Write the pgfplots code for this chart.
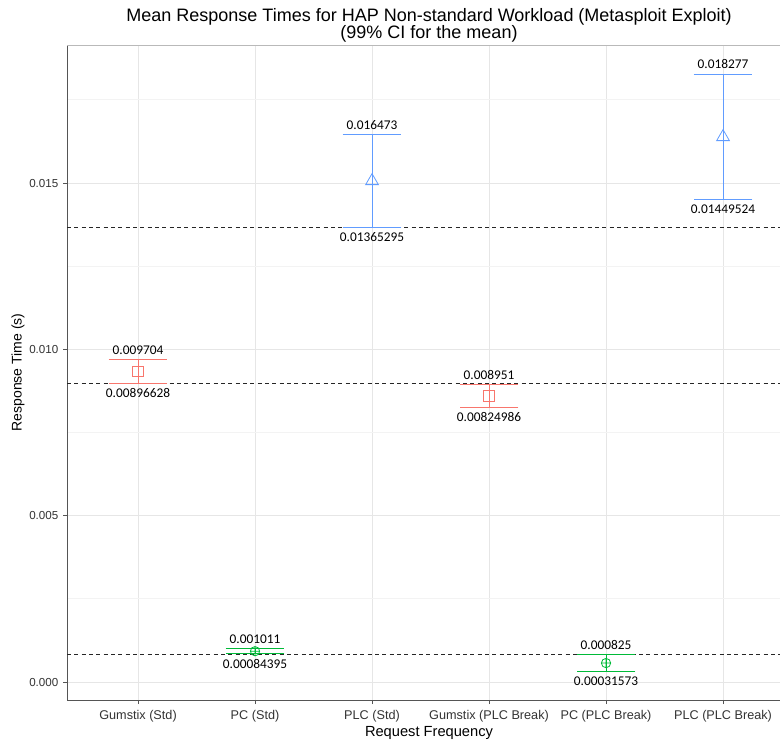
\documentclass[border=0pt]{standalone}
\usepackage{fontspec}
\setmainfont{Liberation Sans}
\newfontfamily\lblfont{Carlito}
\usepackage{pgfplots}
\pgfplotsset{compat=1.18}
\usepackage{pgfplotstable}

\definecolor{gsred}{HTML}{F8766D}
\definecolor{pcgreen}{HTML}{00BA38}
\definecolor{plcblue}{HTML}{619CFF}
\definecolor{gridmaj}{HTML}{E6E6E6}
\definecolor{gridmin}{HTML}{F3F3F3}
\definecolor{axgrey}{HTML}{555555}

% x = position of the category, y = mean, lo/hi = 99% CI
\pgfplotstableread{
x y lo hi lolab hilab
1 0.00933514 0.00896628 0.009704 0.00896628 0.009704
4 0.00860043 0.00824986 0.008951 0.00824986 0.008951
}\gumstix
\pgfplotstableread{
x y lo hi lolab hilab
2 0.00092748 0.00084395 0.001011 0.00084395 0.001011
5 0.00057037 0.00031573 0.000825 0.00031573 0.000825
}\pc
\pgfplotstableread{
x y lo hi lolab hilab
3 0.01506298 0.01365295 0.016473 0.01365295 0.016473
6 0.01638612 0.01449524 0.018277 0.01449524 0.018277
}\plc

\pgfplotsset{
  cibar/.style={only marks, #1, mark options={solid, line width=0.6pt, fill=none},
    error bars/y dir=both, error bars/y explicit,
    error bars/error bar style={line width=0.6pt, color=#1},
    error bars/error mark options={rotate=90, mark size=22pt, line width=0.7pt, color=#1}},
  hilabel/.style={only marks, mark=none, nodes near coords, point meta=explicit symbolic,
    nodes near coords style={anchor=south, inner sep=0pt, yshift=3.5pt, black,
      font=\lblfont\fontsize{10}{12}\selectfont}},
  lolabel/.style={only marks, mark=none, nodes near coords, point meta=explicit symbolic,
    nodes near coords style={anchor=north, inner sep=0pt, yshift=-3.5pt, black,
      font=\lblfont\fontsize{10}{12}\selectfont}},
}

\begin{document}
\begin{tikzpicture}
\useasboundingbox (-50.25pt,-31.5pt) rectangle (534.75pt,525pt);
\begin{axis}[
    at={(0,0)}, anchor=south west,
    width=534.75pt, height=491.25pt, scale only axis,
    xmin=0.393, xmax=6.487,
    ymin=-0.00054, ymax=0.01915,
    axis x line*=bottom, axis y line*=left,
    axis line style={-, axgrey, line width=0.6pt},
    tick style={axgrey, line width=0.6pt},
    tick align=outside, major tick length=3pt, minor tick length=0pt,
    xtick={1,2,3,4,5,6},
    xticklabels={Gumstix (Std), PC (Std), PLC (Std), Gumstix (PLC Break), PC (PLC Break), PLC (PLC Break)},
    ytick={0,0.005,0.01,0.015},
    minor ytick={0.0025,0.0075,0.0125,0.0175},
    yticklabel style={/pgf/number format/.cd, fixed, fixed zerofill, precision=3},
    /pgf/number format/assume math mode=true,
    scaled y ticks=false,
    ticklabel style={font=\fontsize{8.7}{10}\selectfont, color=black!80},
    xticklabel style={font=\fontsize{9.5}{11}\selectfont, yshift=-1pt},
    xmajorgrids, ymajorgrids, yminorgrids,
    major grid style={gridmaj, line width=0.7pt},
    minor grid style={gridmin, line width=0.7pt},
    title={Mean Response Times for HAP Non-standard Workload (Metasploit Exploit)\\[-1.5pt](99\% CI for the mean)},
    title style={at={(axis description cs:0.5077,1)}, anchor=south, inner sep=0pt, yshift=-3.8pt,
      align=center, font=\fontsize{13.5}{14}\selectfont},
    xlabel={Request Frequency},
    xlabel style={at={(axis description cs:0.5077,0)}, anchor=center, yshift=-24.75pt,
      font=\fontsize{11}{12}\selectfont},
    ylabel={Response Time (s)},
    ylabel style={at={(axis description cs:0,0.5)}, anchor=center, yshift=36.75pt,
      font=\fontsize{10.5}{12}\selectfont},
]
% reference lines at the lower bounds of the standard workload
\addplot[black!85, dash pattern=on 3pt off 2.5pt, line width=0.6pt] coordinates {(0.393,0.01365295) (6.487,0.01365295)};
\addplot[black!85, dash pattern=on 3pt off 2.5pt, line width=0.6pt] coordinates {(0.393,0.00896628) (6.487,0.00896628)};
\addplot[black!85, dash pattern=on 3pt off 2.5pt, line width=0.6pt] coordinates {(0.393,0.00084395) (6.487,0.00084395)};

\addplot[cibar=gsred, mark=square, mark size=4pt]
  table[x=x, y=y, y error plus expr=\thisrow{hi}-\thisrow{y}, y error minus expr=\thisrow{y}-\thisrow{lo}] {\gumstix};
\addplot[cibar=pcgreen, mark=oplus, mark size=3.5pt]
  table[x=x, y=y, y error plus expr=\thisrow{hi}-\thisrow{y}, y error minus expr=\thisrow{y}-\thisrow{lo}] {\pc};
\addplot[cibar=plcblue, mark=triangle, mark size=5.5pt]
  table[x=x, y=y, y error plus expr=\thisrow{hi}-\thisrow{y}, y error minus expr=\thisrow{y}-\thisrow{lo}] {\plc};

\addplot[hilabel] table[x=x, y=hi, meta=hilab] {\gumstix};
\addplot[hilabel] table[x=x, y=hi, meta=hilab] {\pc};
\addplot[hilabel] table[x=x, y=hi, meta=hilab] {\plc};
\addplot[lolabel] table[x=x, y=lo, meta=lolab] {\gumstix};
\addplot[lolabel] table[x=x, y=lo, meta=lolab] {\pc};
\addplot[lolabel] table[x=x, y=lo, meta=lolab] {\plc};

\draw[gray!55, line width=0.6pt] (rel axis cs:0,1) -- (rel axis cs:1,1);
\end{axis}
\end{tikzpicture}
\end{document}
